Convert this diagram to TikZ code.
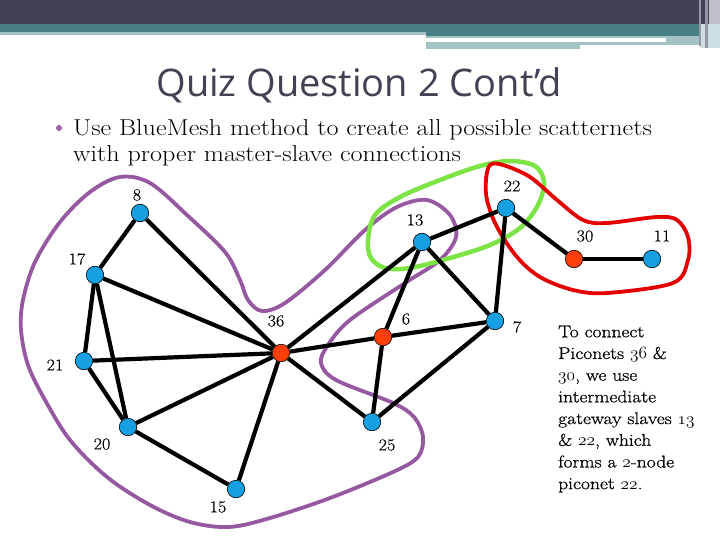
\documentclass[tikz,border=0pt]{standalone}
\usepackage{fontspec}
\newfontfamily\titlefont{Open Sans}
\newfontfamily\bodyfont{Latin Modern Roman}[FakeStretch=1.135]
\newfontfamily\notefont{Latin Modern Roman}[FakeStretch=1.15, FakeBold=0.7]
\newfontfamily\lblfont{Latin Modern Roman}[FakeStretch=1.1, FakeBold=0.3]
\newcommand{\osn}[1]{{\usefont{OML}{cmm}{m}{it}#1}}
\usetikzlibrary{backgrounds}
\definecolor{nodeblue}{RGB}{22,160,225}
\definecolor{nodered}{RGB}{255,62,10}
\definecolor{loopP}{RGB}{150,88,160}
\definecolor{loopG}{RGB}{125,228,70}
\definecolor{loopR}{RGB}{228,0,0}
\definecolor{barDark}{RGB}{65,66,84}
\definecolor{barTeal}{RGB}{71,128,132}
\definecolor{barLight}{RGB}{165,194,196}
\definecolor{barPale}{RGB}{205,222,224}
\definecolor{barGrey}{RGB}{150,150,165}
\definecolor{titlecol}{RGB}{65,66,84}
\definecolor{bulletcol}{RGB}{150,100,160}
\begin{document}
\begin{tikzpicture}[x=1pt,y=-1pt,
  edge/.style={line width=4.2pt, black},
  bnode/.style={circle, fill=nodeblue, draw=black, line width=0.6pt, minimum size=17.5pt, inner sep=0pt},
  rnode/.style={bnode, fill=nodered},
  lbl/.style={font=\lblfont\fontsize{16.5}{16.5}\selectfont, inner sep=0pt},
  loopline/.style={line width=3.8pt, line cap=round, line join=round}]
\useasboundingbox (0,0) rectangle (720,540);
% top bar
\fill[barDark] (0,0) rectangle (720,24);
\fill[barTeal] (0,24) rectangle (720,32);
\fill[barLight] (0,32) rectangle (426,35.5);
\fill[barTeal] (426,32) rectangle (720,36);
\fill[barLight] (426,36) rectangle (666,38.5);
\fill[barLight] (426,42) rectangle (666,45);
\fill[barLight] (426,45) rectangle (580,49);
\fill[barLight] (666,36) rectangle (700,45);
\fill[barPale] (700,24) rectangle (720,48);
\fill[barGrey!60] (709,0) rectangle (720,24);
\fill[barGrey] (699,0) rectangle (701,46);
\fill[barGrey] (705,0) rectangle (708,48);
% title
\node[font=\titlefont\fontsize{38}{38}\selectfont, text=titlecol, anchor=base, inner sep=0pt] (title) at (359,97) {Quiz Question 2 Cont’d};
% bullet text
\node[circle, fill=bulletcol, minimum size=6pt, inner sep=0pt] (bullet) at (59,128) {};
\node[anchor=base west, inner sep=0pt, font=\bodyfont\fontsize{23}{23}\selectfont] (line1) at (73,136) {Use BlueMesh method to create all possible scatternets};
\node[anchor=base west, inner sep=0pt, font=\bodyfont\fontsize{23}{23}\selectfont] (line2) at (73,162) {with proper master-slave connections};
% nodes
\node[bnode] (n8) at (140,213) {};
\node[bnode] (n17) at (95,275) {};
\node[bnode] (n21) at (84,361) {};
\node[bnode] (n20) at (128,427) {};
\node[bnode] (n15) at (236,489) {};
\node[rnode] (n36) at (281,353) {};
\node[rnode] (n6) at (383,337) {};
\node[bnode] (n13) at (422,242) {};
\node[bnode] (n22) at (506,208) {};
\node[bnode] (n7) at (495,321) {};
\node[bnode] (n25) at (372,422) {};
\node[rnode] (n30) at (574,259) {};
\node[bnode] (n11) at (652,259) {};
% labels
\node[lbl] (l8) at (137,195) {8};
\node[lbl] (l17) at (77,259) {17};
\node[lbl] (l21) at (55,365) {21};
\node[lbl] (l20) at (102,444) {20};
\node[lbl] (l15) at (218,507) {15};
\node[lbl] (l36) at (276,321) {36};
\node[lbl] (l6) at (406,319) {6};
\node[lbl] (l13) at (415,220) {13};
\node[lbl] (l22) at (512,186) {22};
\node[lbl] (l7) at (517,327) {7};
\node[lbl] (l25) at (387,445) {25};
\node[lbl] (l30) at (585,236) {30};
\node[lbl] (l11) at (662,236) {11};
% note
\node[anchor=north west, align=left, inner sep=0pt, font=\notefont\fontsize{17}{21.7}\selectfont] (note) at (558,325.5)
 {To connect\\Piconets \osn{36} \&\\\osn{30}, we use\\intermediate\\gateway slaves \osn{13}\\\& \osn{22}, which\\forms a \osn{2}-node\\piconet \osn{22}.};
\begin{pgfonlayer}{background}
\fill[white] (0,50) rectangle (720,540);
% loops
\draw[loopline, loopP] plot[smooth cycle, tension=0.55] coordinates {
 (21,330) (23,300) (35,262) (60,222) (90,192) (120,177) (150,183) (187,215) (225,252) (240,280) (248,300) (262,311) (285,303) (325,270) (365,230) (397,207) (427,200) (450,215) (456,237) (440,260) (405,283) (350,320) (328,345) (321,363) (336,380) (393,403) (414,417) (423,437) (418,457) (393,472) (330,498) (270,518) (229,527) (190,522) (150,505) (107,477) (70,440) (45,400) (28,365)};
\draw[loopline, loopG, line width=4.5pt] plot[smooth cycle, tension=0.55] coordinates {
 (368,240) (375,215) (400,197) (440,180) (480,166) (510,161) (535,166) (544,182) (538,205) (520,228) (490,245) (450,258) (410,268) (385,268) (371,258)};
\draw[loopline, loopR] plot[smooth cycle, tension=0.55] coordinates {
 (490,165) (503,165) (530,177) (557,200) (583,220) (607,223) (657,217) (677,220) (688,237) (688,260) (673,283) (607,293) (573,290) (540,277) (517,257) (497,227) (487,200) (486,180)};
% edges
\draw[edge] (n8) -- (n17);
\draw[edge] (n8) -- (n36);
\draw[edge] (n17) -- (n36);
\draw[edge] (n17) -- (n21);
\draw[edge] (n17) -- (n20);
\draw[edge] (n21) -- (n36);
\draw[edge] (n21) -- (n20);
\draw[edge] (n20) -- (n36);
\draw[edge] (n20) -- (n15);
\draw[edge] (n15) -- (n36);
\draw[edge] (n36) -- (n13);
\draw[edge] (n36) -- (n6);
\draw[edge] (n36) -- (n25);
\draw[edge] (n6) -- (n13);
\draw[edge] (n6) -- (n7);
\draw[edge] (n6) -- (n25);
\draw[edge] (n13) -- (n22);
\draw[edge] (n13) -- (n7);
\draw[edge] (n22) -- (n7);
\draw[edge] (n22) -- (n30);
\draw[edge] (n30) -- (n11);
\draw[edge] (n25) -- (n7);
\end{pgfonlayer}
\end{tikzpicture}
\end{document}
